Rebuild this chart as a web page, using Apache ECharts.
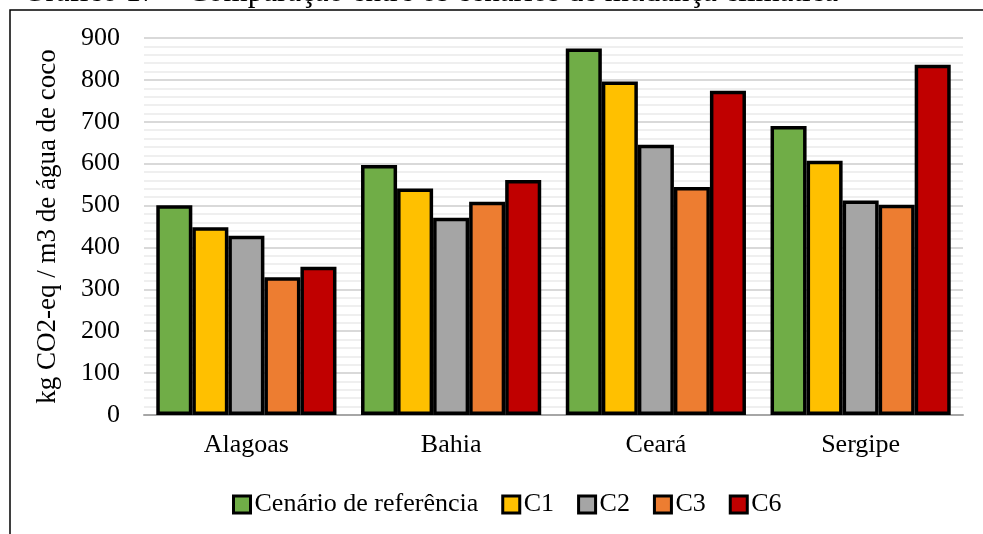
<!DOCTYPE html>
<html>
<head>
<meta charset="utf-8">
<script src="https://cdn.jsdelivr.net/npm/echarts@6/dist/echarts.min.js"></script>
<style>
html,body{margin:0;padding:0;background:#fff;}
#chart{width:983px;height:534px;}
</style>
</head>
<body>
<div id="chart"></div>
<script>
const categories = ['Alagoas', 'Bahia', 'Ceará', 'Sergipe'];
const seriesNames = ['Cenário de referência', 'C1', 'C2', 'C3', 'C6'];
const refValues = [501, 597, 875, 690];
const c1Values = [448, 541, 796, 607];
const c2Values = [428, 471, 645, 512];
const c3Values = [329, 509, 544, 502];
const c6Values = [354, 561, 774, 836];
const seriesValues = [refValues, c1Values, c2Values, c3Values, c6Values];
const colors = ['#70AD47', '#FFC000', '#A5A5A5', '#ED7D31', '#C00000'];
const yTicks = [0, 900, 100];
const yAxisName = 'kg CO2-eq / m3 de água de coco';
const titleText = 'Gráfico 17 – Comparação entre os cenários de mudança climática';

const FONT = "'Liberation Serif', 'Times New Roman', serif";
const chart = echarts.init(document.getElementById('chart'), null, {renderer: 'canvas'});

chart.setOption({
  animation: false,
  backgroundColor: '#fff',
  textStyle: {fontFamily: FONT, color: '#000'},
  graphic: [
    {
      type: 'rect',
      shape: {x: 10, y: 10, width: 1000, height: 600},
      style: {fill: 'none', stroke: '#000', lineWidth: 1.5},
      silent: true, z: -1
    },
    {
      type: 'text',
      left: 23, top: -23,
      style: {text: titleText, font: "31px 'Liberation Serif', serif", fill: '#000'},
      silent: true
    }
  ],
  grid: {left: 144, right: 20, top: 38, bottom: 119, containLabel: false},
  legend: {
    data: seriesNames,
    left: 232,
    top: 491,
    padding: 0,
    itemWidth: 17,
    itemHeight: 17,
    itemGap: 23,
    icon: 'rect',
    textStyle: {fontFamily: FONT, fontSize: 26, color: '#000', lineHeight: 27, padding: [0, 0, 0, -1]},
    itemStyle: {borderColor: '#000', borderWidth: 3}
  },
  xAxis: {
    type: 'category',
    data: categories,
    axisLine: {show: true, lineStyle: {color: '#a6a6a6', width: 2}},
    axisTick: {show: false},
    axisLabel: {fontFamily: FONT, fontSize: 26, color: '#000', margin: 17}
  },
  yAxis: {
    type: 'value',
    min: yTicks[0],
    max: yTicks[1],
    interval: yTicks[2],
    name: yAxisName,
    nameLocation: 'middle',
    nameGap: 83,
    nameTextStyle: {fontFamily: FONT, fontSize: 27, color: '#000'},
    axisLine: {show: false},
    axisTick: {show: false},
    axisLabel: {fontFamily: FONT, fontSize: 26, color: '#000', margin: 24},
    splitLine: {show: true, lineStyle: {color: '#d9d9d9', width: 2}},
    minorTick: {show: false, splitNumber: 5},
    minorSplitLine: {show: true, lineStyle: {color: '#efefef', width: 2}}
  },
  series: seriesNames.map((name, i) => ({
    name: name,
    type: 'bar',
    data: seriesValues[i],
    barGap: '0%',
    barCategoryGap: '12%',
    itemStyle: {color: colors[i], borderColor: '#000', borderWidth: 3.5},
    emphasis: {disabled: true}
  }))
});
</script>
</body>
</html>
